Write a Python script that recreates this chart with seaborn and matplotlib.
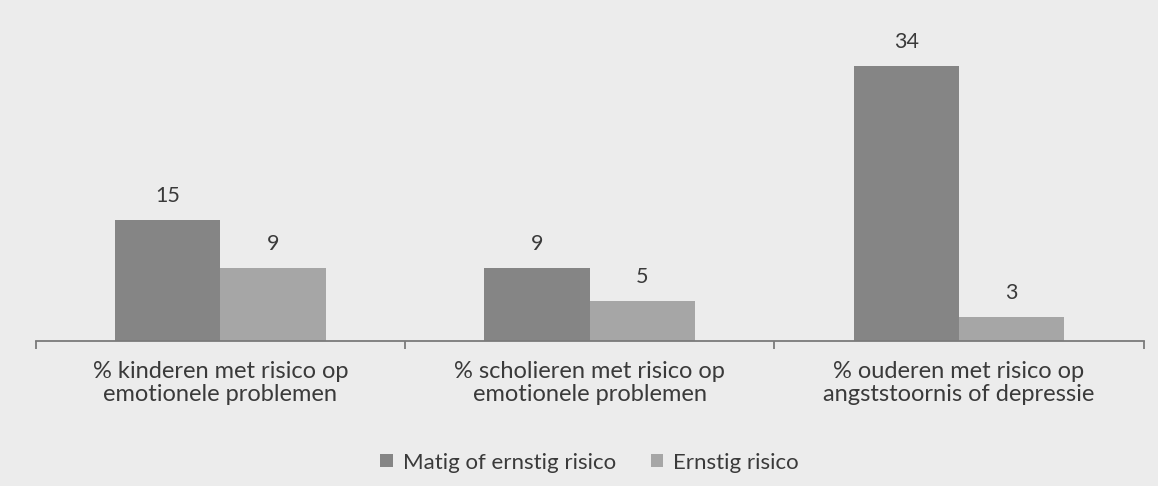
import pandas as pd
import numpy as np
import matplotlib.pyplot as plt
import seaborn as sns

categories = ["% kinderen met risico op\nemotionele problemen",
              "% scholieren met risico op\nemotionele problemen",
              "% ouderen met risico op\nangststoornis of depressie"]
series = ["Matig of ernstig risico", "Ernstig risico"]
matig = [15, 9, 34]
ernstig = [9, 5, 3]

df = pd.DataFrame({
    "categorie": categories * 2,
    "reeks": [series[0]] * 3 + [series[1]] * 3,
    "waarde": matig + ernstig,
})

sns.set_style("white")
plt.rcParams["font.family"] = ["Lato", "DejaVu Sans"]
txt = "#3a3a3a"
axcol = "#7a7a7a"

fig = plt.figure(figsize=(11.58, 4.86), dpi=100, facecolor="#ececec")
ax = fig.add_axes([0.0307, 0.298, 0.957, 0.666])
ax.set_facecolor("#ececec")

sns.barplot(data=df, x="categorie", y="waarde", hue="reeks",
            palette=["#858585", "#a6a6a6"], width=0.57, saturation=1,
            linewidth=0, ax=ax)

for cont in ax.containers:
    ax.bar_label(cont, padding=10, fontsize=15.5, color=txt)

ax.set_xlim(-0.5, 2.5)
ax.set_ylim(0, 40)
ax.set_yticks([])
ax.set_xlabel("")
ax.set_ylabel("")
for s in ["top", "right", "left"]:
    ax.spines[s].set_visible(False)
ax.spines["bottom"].set_color(axcol)
ax.spines["bottom"].set_linewidth(1.3)

ax.tick_params(axis="x", which="major", length=0, pad=14, labelsize=17,
               labelcolor=txt)
for lab in ax.get_xticklabels():
    lab.set_linespacing(1.15)
ax.set_xticks([-0.5, 0.5, 1.5, 2.5], minor=True)
ax.tick_params(axis="x", which="minor", bottom=True, length=6, color=axcol,
               width=1.3)

ax.legend(loc="center", bbox_to_anchor=(0.5, -0.375), ncol=2, frameon=False,
          fontsize=16, labelcolor=txt, handlelength=0.55, handleheight=0.55,
          handletextpad=0.45, columnspacing=1.6)

fig.savefig("out.png", dpi=100, facecolor=fig.get_facecolor())
